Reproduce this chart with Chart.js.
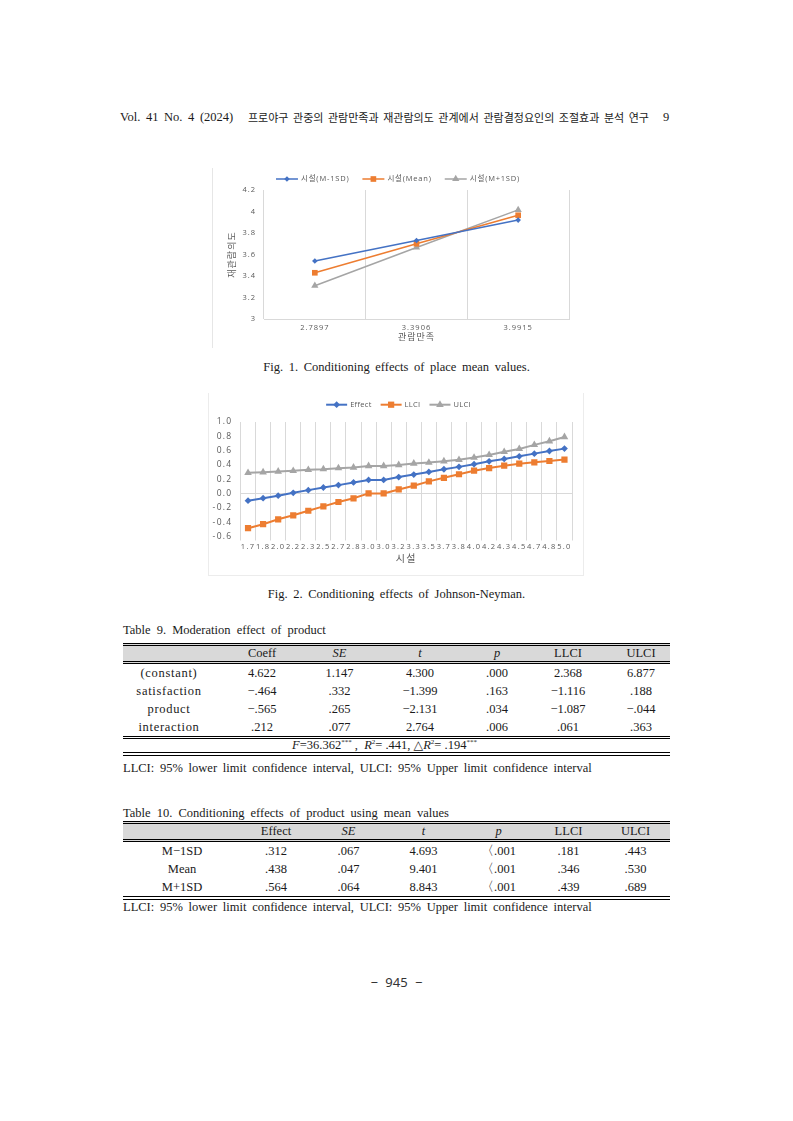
<!DOCTYPE html>
<html lang="ko">
<head>
<meta charset="utf-8">
<title>Conditioning effects</title>
<script src="https://cdn.jsdelivr.net/npm/chart.js@4.4.1/dist/chart.umd.min.js"></script>
<style>
  html, body { margin: 0; padding: 0; background: #fff; }
  body { position: relative; width: 793px; height: 1121px; overflow: hidden; color: #1a1a1a; }
  .abs { position: absolute; white-space: nowrap; }
  .serif { font-family: 'Liberation Serif', 'DejaVu Serif', serif; }
  .kr { font-family: 'Noto Sans CJK KR', sans-serif; }
  .hdr { top: 110px; line-height: 14px; font-size: 11px; }
  .cap { left: 0; width: 793px; text-align: center; font-size: 12.5px; line-height: 14px; word-spacing: 2.5px; }
  .ttl { left: 123px; font-size: 12.5px; line-height: 14px; word-spacing: 3px; }
  .note { left: 123px; font-size: 12.5px; line-height: 14px; word-spacing: 2.6px; }
  .frame { position: absolute; box-sizing: border-box; }
  canvas { position: absolute; }
  table { position: absolute; left: 123px; width: 547px; border-collapse: separate; border-spacing: 0; table-layout: fixed;
          font-family: 'Liberation Serif', 'DejaVu Serif', serif; font-size: 12.5px; }
  td { padding: 0; text-align: center; white-space: nowrap; }
  tr.head { background: #d9d9d9; }
  tr.head td { background: #d9d9d9; height: 15px; line-height: 15px; border-top: 3px double #000; border-bottom: 3px double #000; }
  tr.body td { height: 18px; line-height: 18px; }
  #table9 tr.body td:first-child { letter-spacing: 0.7px; }
  tr.last td { border-bottom: 3px double #000; }
  tr.end td { border-bottom: 4px double #000; }
  tr.stat td { height: 13px; line-height: 13px; padding-right: 24px; }
  sup { font-size: 7px; vertical-align: 5px; line-height: 0; }
</style>
</head>
<body>

<div class="abs hdr serif" style="left:120px;font-size:12.5px;word-spacing:2.5px;">Vol. 41 No. 4 (2024)</div>
<div class="abs hdr kr" style="left:248px;font-size:11px;word-spacing:1.5px;">프로야구 관중의 관람만족과 재관람의도 관계에서 관람결정요인의 조절효과 분석 연구</div>
<div class="abs hdr serif" style="left:663px;font-size:12.5px;">9</div>

<div class="frame" style="left:212px;top:168px;width:366px;height:180px;border-left:1px solid #e6e6e6;"></div>
<canvas id="fig1" width="366" height="180" style="left:212px;top:168px;"></canvas>
<div class="abs cap serif" style="top:360px;">Fig. 1. Conditioning effects of place mean values.</div>

<div class="frame" style="left:208px;top:393px;width:376px;height:183px;border:1px solid #ececec;border-top:none;"></div>
<canvas id="fig2" width="375" height="183" style="left:208px;top:393px;"></canvas>
<div class="abs cap serif" style="top:587px;">Fig. 2. Conditioning effects of Johnson-Neyman.</div>

<div class="abs ttl serif" style="top:623px;">Table 9. Moderation effect of product</div>
<table id="table9" style="top:643px;"></table>
<div class="abs note serif" style="top:761px;">LLCI: 95% lower limit confidence interval, ULCI: 95% Upper limit confidence interval</div>

<div class="abs ttl serif" style="top:806px;">Table 10. Conditioning effects of product using mean values</div>
<table id="table10" style="top:821px;"></table>
<div class="abs note serif" style="top:900px;">LLCI: 95% lower limit confidence interval, ULCI: 95% Upper limit confidence interval</div>

<div class="abs" style="left:0;width:793px;text-align:center;top:975px;font-family:'Noto Sans',sans-serif;font-size:13px;line-height:14px;color:#333;word-spacing:4px;">− 945 −</div>

<script>
// Fig. 1: simple slopes at M-1SD / Mean / M+1SD of 시설
const fig1Categories = ['2.7897', '3.3906', '3.9915'];
const fig1Low = [3.54, 3.73, 3.92];
const fig1Mean = [3.43, 3.70, 3.965];
const fig1High = [3.31, 3.665, 4.015];

// Fig. 2: Johnson-Neyman
const fig2Categories = ['1.7', '1.8', '2.0', '2.2', '2.3', '2.5', '2.7', '2.8', '3.0', '3.0', '3.2',
                        '3.3', '3.5', '3.7', '3.8', '4.0', '4.2', '4.3', '4.5', '4.7', '4.8', '5.0'];
const fig2Effect = [-0.10, -0.065, -0.03, 0.01, 0.048, 0.085, 0.118, 0.155, 0.19, 0.19, 0.23,
                    0.266, 0.302, 0.34, 0.373, 0.41, 0.45, 0.484, 0.521, 0.558, 0.595, 0.628];
const fig2LLCI = [-0.484, -0.428, -0.36, -0.304, -0.24, -0.179, -0.118, -0.066, 0.002, 0.002, 0.057,
                  0.11, 0.17, 0.22, 0.27, 0.32, 0.357, 0.39, 0.417, 0.436, 0.455, 0.475];
const fig2ULCI = [0.29, 0.298, 0.308, 0.318, 0.332, 0.341, 0.355, 0.365, 0.386, 0.386, 0.40,
                  0.42, 0.433, 0.452, 0.471, 0.503, 0.54, 0.583, 0.624, 0.68, 0.731, 0.791];

// Table 9
const table9Header = ['', 'Coeff', '<i>SE</i>', '<i>t</i>', '<i>p</i>', 'LLCI', 'ULCI'];
const table9Widths = [92, 94, 61, 100, 54, 88, 58];
const table9Rows = [
    ['(constant)', '4.622', '1.147', '4.300', '.000', '2.368', '6.877'],
    ['satisfaction', '−.464', '.332', '−1.399', '.163', '−1.116', '.188'],
    ['product', '−.565', '.265', '−2.131', '.034', '−1.087', '−.044'],
    ['interaction', '.212', '.077', '2.764', '.006', '.061', '.363']
];
const table9Stat = '<i>F</i>=36.362<sup>***</sup> ,&nbsp; <i>R</i><sup>2</sup>= .441, △<i>R</i><sup>2</sup>= .194<sup>***</sup>';

// Table 10
const table10Header = ['', 'Effect', '<i>SE</i>', '<i>t</i>', '<i>p</i>', 'LLCI', 'ULCI'];
const table10Widths = [118, 70, 75, 75, 75, 65, 69];
const table10Rows = [
    ['M−1SD', '.312', '.067', '4.693', '〈.001', '.181', '.443'],
    ['Mean', '.438', '.047', '9.401', '〈.001', '.346', '.530'],
    ['M+1SD', '.564', '.064', '8.843', '〈.001', '.439', '.689']
];

const BLUE = '#4472C4', ORANGE = '#ED7D31', GREY = '#A5A5A5', TEXT = '#595959';
const FONT = "'Open Sans', 'Noto Sans CJK KR', sans-serif";

function buildTable(id, header, widths, rows, stat) {
    let html = '<colgroup>' + widths.map(w => `<col style="width:${w}px">`).join('') + '</colgroup>';
    html += '<tr class="head">' + header.map(h => `<td>${h}</td>`).join('') + '</tr>';
    rows.forEach((r, i) => {
        let cls = 'body';
        if (i === rows.length - 1) cls += stat ? ' last' : ' end';
        html += `<tr class="${cls}">` + r.map(c => `<td>${c}</td>`).join('') + '</tr>';
    });
    if (stat) html += `<tr class="stat end"><td colspan="${header.length}">${stat}</td></tr>`;
    document.getElementById(id).innerHTML = html;
}

buildTable('table9', table9Header, table9Widths, table9Rows, table9Stat);
buildTable('table10', table10Header, table10Widths, table10Rows, null);

// small marker drawing for the legend (Excel style: line with marker)
function drawMarker(ctx, style, x, y, r) {
    ctx.beginPath();
    if (style === 'rectRot') {
        ctx.moveTo(x, y - r); ctx.lineTo(x + r, y); ctx.lineTo(x, y + r); ctx.lineTo(x - r, y);
    } else if (style === 'rect') {
        const s = r * Math.SQRT1_2;
        ctx.rect(x - s, y - s, 2 * s, 2 * s);
    } else {
        ctx.moveTo(x, y - r);
        ctx.lineTo(x + r * 0.866, y + r * 0.5);
        ctx.lineTo(x - r * 0.866, y + r * 0.5);
    }
    ctx.closePath();
    ctx.fill();
}

const lineLegend = {
    id: 'lineLegend',
    afterDraw(chart, args, opts) {
        const ctx = chart.ctx;
        ctx.save();
        ctx.font = `${opts.size}px ${FONT}`;
        ctx.letterSpacing = opts.spacing;
        ctx.textBaseline = 'middle';
        const items = chart.data.datasets.map(ds => ({ ds, tw: ctx.measureText(ds.label).width }));
        const total = items.reduce((s, it) => s + opts.lineLen + opts.gap + it.tw, 0) + opts.itemGap * (items.length - 1);
        let x = (chart.width - total) / 2 + opts.shift;
        items.forEach(({ ds, tw }) => {
            ctx.strokeStyle = ds.borderColor;
            ctx.fillStyle = ds.borderColor;
            ctx.lineWidth = ds.borderWidth;
            ctx.beginPath();
            ctx.moveTo(x, opts.y);
            ctx.lineTo(x + opts.lineLen, opts.y);
            ctx.stroke();
            drawMarker(ctx, ds.pointStyle, x + opts.lineLen / 2, opts.y, ds.pointRadius);
            ctx.fillStyle = TEXT;
            ctx.fillText(ds.label, x + opts.lineLen + opts.gap, opts.y);
            x += opts.lineLen + opts.gap + tw + opts.itemGap;
        });
        ctx.restore();
    }
};

// canvas letter spacing, the original labels are spaced out
const spacing = {
    id: 'spacing',
    beforeUpdate(chart, args, opts) { chart.ctx.letterSpacing = opts.value; },
    beforeDraw(chart, args, opts) { chart.ctx.letterSpacing = opts.value; }
};

new Chart(document.getElementById('fig1'), {
    type: 'line',
    data: {
        labels: fig1Categories,
        datasets: [
            { label: '시설(M-1SD)', data: fig1Low, borderColor: BLUE, backgroundColor: BLUE, borderWidth: 1.5,
              pointStyle: 'rectRot', pointRadius: 2.8, pointBorderWidth: 0 },
            { label: '시설(Mean)', data: fig1Mean, borderColor: ORANGE, backgroundColor: ORANGE, borderWidth: 1.5,
              pointStyle: 'rect', pointRadius: 4, pointBorderWidth: 0 },
            { label: '시설(M+1SD)', data: fig1High, borderColor: GREY, backgroundColor: GREY, borderWidth: 1.5,
              pointStyle: 'triangle', pointRadius: 4.2, pointBorderWidth: 0 }
        ]
    },
    options: {
        animation: false,
        responsive: false,
        devicePixelRatio: 1,
        layout: { padding: { top: 22, right: 9, left: 0, bottom: 0 } },
        plugins: {
            legend: { display: false },
            tooltip: { enabled: false },
            spacing: { value: '1px' },
            lineLegend: { y: 11, size: 7.5, spacing: '0.8px', lineLen: 22, gap: 3, itemGap: 13, shift: 3 }
        },
        scales: {
            x: {
                offset: true,
                grid: { offset: true, color: '#d9d9d9', drawTicks: false },
                border: { display: true, color: '#d9d9d9' },
                ticks: { padding: 4, color: TEXT, font: { family: FONT, size: 7.5 }, maxRotation: 0, autoSkip: false },
                title: { display: true, text: '관람만족', color: TEXT, font: { family: FONT, size: 9 }, padding: { top: 0, bottom: 5 } },
                afterFit(scale) { scale.height = 29; }
            },
            y: {
                min: 3,
                max: 4.2,
                grid: { display: false, drawTicks: false },
                border: { display: false },
                ticks: { stepSize: 0.2, padding: 8, color: TEXT, font: { family: FONT, size: 7.5 },
                         callback: v => String(+v.toFixed(1)) },
                title: { display: true, text: '재관람의도', color: TEXT, font: { family: FONT, size: 9 }, padding: { top: 15, bottom: 0 } },
                afterFit(scale) { scale.width = 52; }
            }
        }
    },
    plugins: [spacing, lineLegend]
});

new Chart(document.getElementById('fig2'), {
    type: 'line',
    data: {
        labels: fig2Categories,
        datasets: [
            { label: 'Effect', data: fig2Effect, borderColor: BLUE, backgroundColor: BLUE, borderWidth: 2,
              pointStyle: 'rectRot', pointRadius: 3.4, pointBorderWidth: 0 },
            { label: 'LLCI', data: fig2LLCI, borderColor: ORANGE, backgroundColor: ORANGE, borderWidth: 2,
              pointStyle: 'rect', pointRadius: 4.4, pointBorderWidth: 0 },
            { label: 'ULCI', data: fig2ULCI, borderColor: GREY, backgroundColor: GREY, borderWidth: 2,
              pointStyle: 'triangle', pointRadius: 4.4, pointBorderWidth: 0 }
        ]
    },
    options: {
        animation: false,
        responsive: false,
        devicePixelRatio: 1,
        layout: { padding: { top: 29, right: 11, left: 0, bottom: 0 } },
        plugins: {
            legend: { display: false },
            tooltip: { enabled: false },
            spacing: { value: '1.3px' },
            lineLegend: { y: 11.7, size: 7.5, spacing: '0.3px', lineLen: 21, gap: 3, itemGap: 9, shift: 3 }
        },
        scales: {
            x: {
                offset: true,
                grid: { offset: true, color: '#d9d9d9', tickLength: 4 },
                border: { display: false },
                ticks: { padding: 2, color: TEXT, font: { family: FONT, size: 7.5 }, maxRotation: 0, autoSkip: false },
                title: { display: true, text: '시설', color: TEXT, font: { family: FONT, size: 10 }, padding: { top: 0, bottom: 11 } },
                afterFit(scale) { scale.height = 39.5; }
            },
            y: {
                min: -0.6,
                max: 1.0,
                grid: { drawTicks: false, color: c => Math.abs(c.tick.value) < 1e-9 ? '#d9d9d9' : 'rgba(0,0,0,0)' },
                border: { display: false },
                ticks: { stepSize: 0.2, padding: 8, color: TEXT, font: { family: FONT, size: 8.5 },
                         callback: v => v.toFixed(1) },
                afterFit(scale) { scale.width = 32.5; }
            }
        }
    },
    plugins: [spacing, lineLegend]
});
</script>
</body>
</html>
